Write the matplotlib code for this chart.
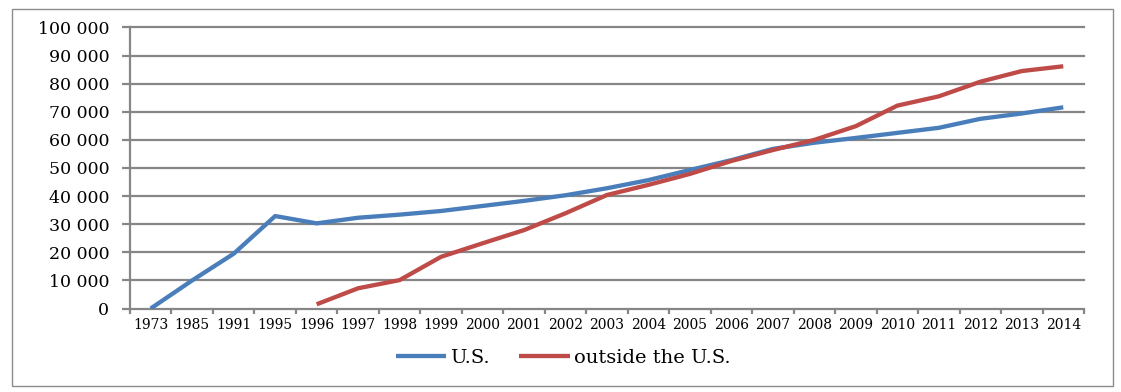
import matplotlib
matplotlib.use("Agg")
import matplotlib.pyplot as plt
from matplotlib.patches import Rectangle
import numpy as np

categories = ["1973", "1985", "1991", "1995", "1996", "1997", "1998", "1999",
              "2000", "2001", "2002", "2003", "2004", "2005", "2006", "2007",
              "2008", "2009", "2010", "2011", "2012", "2013", "2014"]
us_values = [0, 10000, 19500, 32900, 30300, 32300, 33400, 34700, 36500, 38300,
             40300, 42800, 45700, 49300, 52800, 56800, 59000, 60700, 62500,
             64300, 67500, 69400, 71600]
outside_values = [None, None, None, None, 1500, 7200, 10100, 18400, 23200,
                  27900, 33900, 40400, 44000, 47900, 52500, 56400, 60000,
                  64900, 72200, 75500, 80700, 84500, 86200]
y_ticks = [0, 10000, 20000, 30000, 40000, 50000, 60000, 70000, 80000, 90000, 100000]
y_tick_labels = ["0", "10 000", "20 000", "30 000", "40 000", "50 000",
                 "60 000", "70 000", "80 000", "90 000", "100 000"]
series_names = ["U.S.", "outside the U.S."]

W, H = 1121, 392
fig = plt.figure(figsize=(W / 100, H / 100), dpi=100)
plt.rcParams['font.family'] = ['DejaVu Serif']

grid_c = "#868686"
blue = "#4A7EBB"
red = "#BE4B48"

# outer border
fig.patches.append(Rectangle((11.5 / W, 1 - 385.5 / H), (1112.5 - 11.5) / W, (385.5 - 8.5) / H,
                             transform=fig.transFigure, fill=False, edgecolor="#8c8c8c",
                             linewidth=1.0))

left, right, top, bottom = 130, 1084, 27.5, 308.5
ax = fig.add_axes([left / W, 1 - bottom / H, (right - left) / W, (bottom - top) / H])

x = np.arange(len(categories))
us = np.array(us_values, dtype=float)
out = np.array([np.nan if v is None else v for v in outside_values], dtype=float)

ax.plot(x, us, color=blue, lw=3.1, label=series_names[0], solid_capstyle="butt", zorder=3)
ax.plot(x, out, color=red, lw=3.1, label=series_names[1], solid_capstyle="butt", zorder=3)

ax.set_xlim(-0.5, len(categories) - 0.5)
ax.set_ylim(0, 100000)

for v in y_ticks[1:]:
    ax.axhline(v, color=grid_c, lw=1.6, zorder=1, clip_on=False)

ax.set_yticks(y_ticks)
ax.set_yticklabels(y_tick_labels, fontsize=12.5)
ax.tick_params(axis="y", length=6, width=1.6, color=grid_c, pad=9, direction="out")

ax.set_xticks(np.arange(len(categories) + 1) - 0.5)
ax.set_xticklabels([])
ax.tick_params(axis="x", which="major", length=3.5, width=1.6, color=grid_c, direction="out")
ax.set_xticks(x, minor=True)
ax.set_xticklabels(categories, minor=True, fontsize=10)
ax.tick_params(axis="x", which="minor", length=0, pad=7)

for s in ["top", "right"]:
    ax.spines[s].set_visible(False)
ax.spines["left"].set_color(grid_c)
ax.spines["left"].set_linewidth(1.6)
ax.spines["bottom"].set_color(grid_c)
ax.spines["bottom"].set_linewidth(1.6)

fig.legend(loc="center", bbox_to_anchor=(563 / W, 1 - 358 / H), ncol=2, frameon=False,
           fontsize=14, handlelength=2.6, handletextpad=0.2, columnspacing=1.5)

fig.savefig("out.png", dpi=100)
